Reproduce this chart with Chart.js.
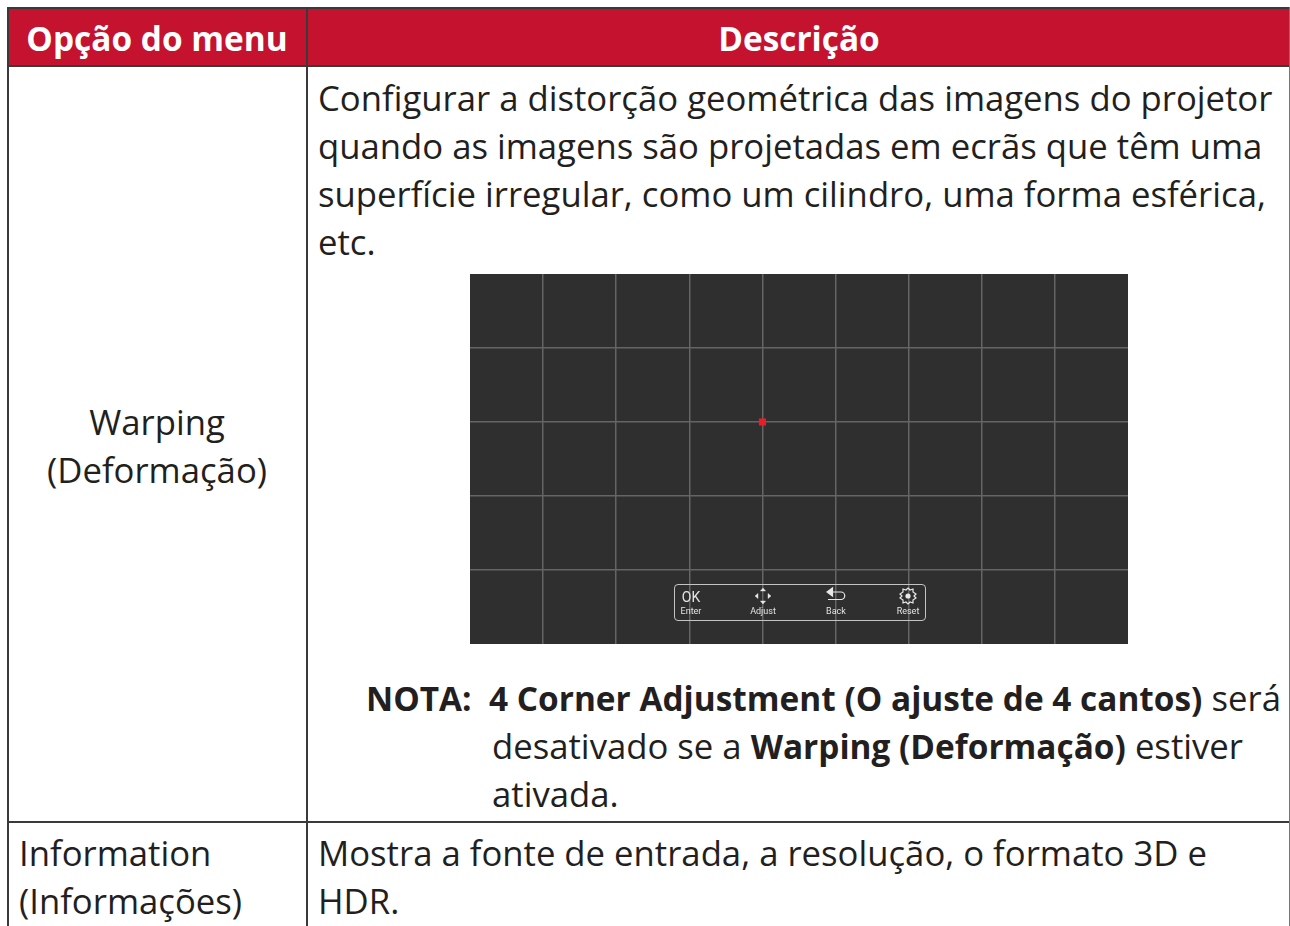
<!DOCTYPE html>
<html lang="pt">
<head>
<meta charset="utf-8">
<title>Warping</title>
<script src="https://cdn.jsdelivr.net/npm/chart.js@4"></script>
<style>
html,body{margin:0;padding:0;background:#fff;width:1290px;height:926px;overflow:hidden}
body{position:relative;font-family:"Open Sans",sans-serif;color:#231f20}
.line{position:absolute;white-space:nowrap;line-height:48px;height:48px;font-size:34.7px}
.line b{font-size:33.4px}
.c{transform:translateX(-50%)}
.rule{position:absolute;background:#3a3a3a}
#head{position:absolute;left:8px;top:8px;width:1281px;height:58px;background:#c4122f}
#panel{position:absolute;left:470px;top:274px;width:658px;height:370px;background:#2f2f2f;overflow:hidden}
#panel canvas{position:absolute;left:-5px;top:-5px}
#bar{position:absolute;left:204px;top:310px;width:250px;height:35px;border:1px solid #c4c4c4;border-radius:4px}
.tool{position:absolute;color:#e4e4e4;font-family:Roboto,sans-serif;white-space:nowrap;transform:translateX(-50%)}
</style>
</head>
<body>
<div id="head"></div>
<div class="rule" style="left:7px;top:7px;width:1283px;height:2px"></div>
<div class="rule" style="left:7px;top:65px;width:1283px;height:2px"></div>
<div class="rule" style="left:7px;top:821px;width:1283px;height:2px"></div>
<div class="rule" style="left:7px;top:7px;width:2px;height:919px"></div>
<div class="rule" style="left:306px;top:7px;width:2px;height:919px"></div>
<div class="rule" style="left:1289px;top:7px;width:1px;height:919px;background:#777"></div>

<div id="panel"><canvas id="mycanvas" width="668" height="380"></canvas><div id="bar"></div></div>
<div id="text"></div>

<script>
// grid of the warping screen
var gridX = [0, 1, 2, 3, 4, 5, 6, 7, 8, 9];
var gridY = [0, 1, 2, 3, 4, 5];
var pointX = [4];
var pointY = [3];

var toolLabels = ['Enter', 'Adjust', 'Back', 'Reset'];
var toolCentres = [16, 88, 161, 233];

var descLines = [
	'Configurar a distorção geométrica das imagens do projetor',
	'quando as imagens são projetadas em ecrãs que têm uma',
	'superfície irregular, como um cilindro, uma forma esférica,',
	'etc.'
];
var descTops = [74, 122, 170, 218];

function addLine(html, left, top, cls, color) {
	var d = document.createElement('div');
	d.className = 'line ' + (cls || '');
	d.style.left = left + 'px';
	d.style.top = top + 'px';
	if (color) d.style.color = color;
	d.innerHTML = html;
	document.getElementById('text').appendChild(d);
}

addLine('<b>Opção do menu</b>', 157, 14, 'c', '#fff');
addLine('<b>Descrição</b>', 799, 14, 'c', '#fff');
for (var i in descLines) {
	addLine(descLines[i], 318, descTops[i]);
}
addLine('Warping', 157, 398, 'c');
addLine('(Deformação)', 157, 446, 'c');
addLine('<b>NOTA:</b>', 366, 674);
addLine('<b>4 Corner Adjustment (O ajuste de 4 cantos)</b> será', 489, 674);
addLine('desativado se a <b>Warping (Deformação)</b> estiver', 492, 722);
addLine('ativada.', 492, 770);
addLine('Information', 19, 829);
addLine('(Informações)', 19, 877);
addLine('Mostra a fonte de entrada, a resolução, o formato 3D e', 318, 829);
addLine('HDR.', 318, 877);

// toolbar under the grid
var bar = document.getElementById('bar');
var iconPaths = [
	'',
	'M0 -8 L2.6 -5 L-2.6 -5 Z M0 8 L2.6 5 L-2.6 5 Z M-8 0 L-5 -2.6 L-5 2.6 Z M8 0 L5 -2.6 L5 2.6 Z',
	'M-9 -4 L-3.5 -8 L-3.5 0 Z M-3.5 -4 H5 A3.5 3.5 0 0 1 5 3.5 H-8',
	'M0 -8 L2 -6 L5 -7 L5 -4 L8 -2 L6 0 L8 2 L5 4 L5 7 L2 6 L0 8 L-2 6 L-5 7 L-5 4 L-8 2 L-6 0 L-8 -2 L-5 -4 L-5 -7 L-2 -6 Z'
];
for (var t in toolLabels) {
	var lab = document.createElement('div');
	lab.className = 'tool';
	lab.style.cssText = 'left:' + toolCentres[t] + 'px;top:21px;font-size:9px;line-height:11px';
	lab.textContent = toolLabels[t];
	bar.appendChild(lab);
	if (t == 0) {
		var ok = document.createElement('div');
		ok.className = 'tool';
		ok.style.cssText = 'left:16px;top:4px;font-size:14px;line-height:16px';
		ok.textContent = 'OK';
		bar.appendChild(ok);
	} else {
		var s = document.createElementNS('http://www.w3.org/2000/svg', 'svg');
		s.setAttribute('width', '20');
		s.setAttribute('height', '20');
		s.setAttribute('viewBox', '-10 -10 20 20');
		s.style.cssText = 'position:absolute;top:1px;left:' + (toolCentres[t] - 10) + 'px';
		var p = document.createElementNS('http://www.w3.org/2000/svg', 'path');
		p.setAttribute('d', iconPaths[t]);
		p.setAttribute('fill', t == 1 ? '#e8e8e8' : 'none');
		p.setAttribute('stroke', '#e8e8e8');
		p.setAttribute('stroke-width', t == 1 ? '0.4' : '1.2');
		s.appendChild(p);
		if (t == 2) {
			var head = document.createElementNS('http://www.w3.org/2000/svg', 'path');
			head.setAttribute('d', 'M-9 -4 L-3.5 -8 L-3.5 0 Z');
			head.setAttribute('fill', '#e8e8e8');
			s.appendChild(head);
		}
		if (t == 3) {
			var dot = document.createElementNS('http://www.w3.org/2000/svg', 'circle');
			dot.setAttribute('r', '2.6');
			dot.setAttribute('fill', '#e8e8e8');
			s.appendChild(dot);
		}
		bar.appendChild(s);
	}
}

// lines on the panel edge are not shown
function gridColour(c) {
	var last = c.scale.max;
	if (c.tick.value == c.scale.min || c.tick.value == last) return 'rgba(0,0,0,0)';
	return '#656565';
}

var ctx = document.getElementById('mycanvas');
var gridChart = new Chart(ctx, {
	type: 'scatter',
	data: {
		datasets: [
			{
				label: 'Centro',
				data: pointX.map(function (x, i) { return { x: x, y: pointY[i] }; }),
				backgroundColor: '#ed1c24',
				borderColor: '#ed1c24',
				borderWidth: 0,
				pointBorderWidth: 0,
				pointStyle: 'rect',
				pointRadius: 5,
				pointHoverRadius: 5,
				pointHoverBorderWidth: 0
			}
		]
	},
	options: {
		responsive: false,
		animation: false,
		layout: { padding: 0 },
		plugins: { legend: { display: false }, tooltip: { enabled: false } },
		scales: {
			x: {
				type: 'linear',
				min: gridX[0],
				max: gridX[gridX.length - 1],
				border: { display: false },
				grid: { color: gridColour, lineWidth: 1.5, drawTicks: false },
				ticks: { display: false, stepSize: 1 }
			},
			y: {
				type: 'linear',
				min: gridY[0],
				max: gridY[gridY.length - 1],
				border: { display: false },
				grid: { color: gridColour, lineWidth: 1.5, drawTicks: false },
				ticks: { display: false, stepSize: 1 }
			}
		}
	}
});
</script>
</body>
</html>
